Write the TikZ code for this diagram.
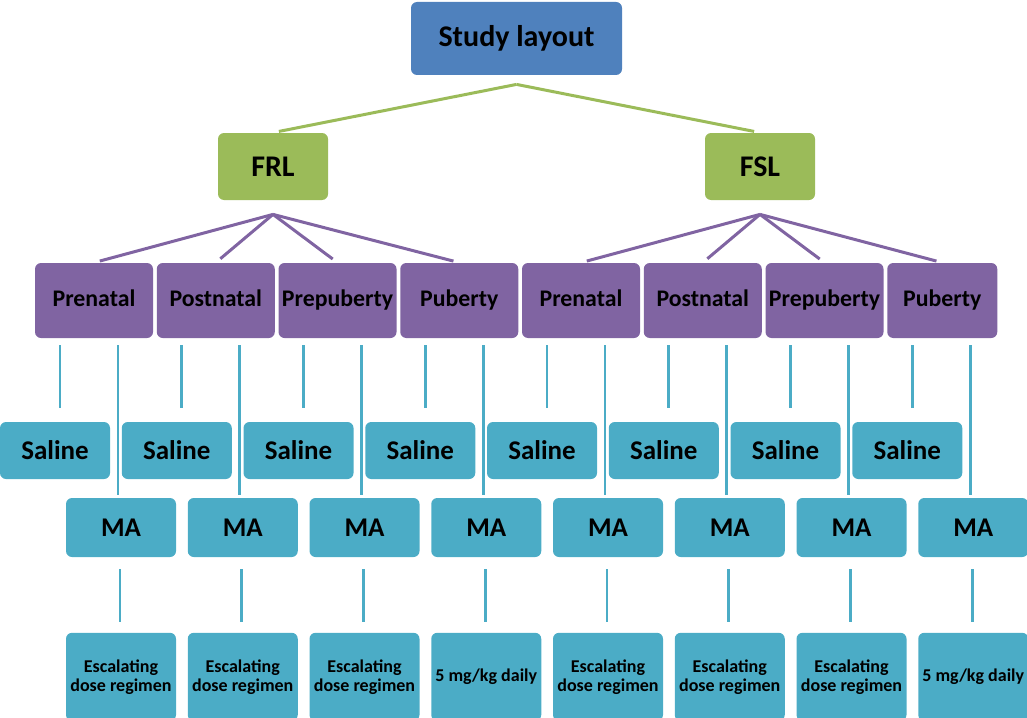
\documentclass[tikz,border=0pt]{standalone}
\usepackage{fontspec}
\setmainfont{Carlito}
\usepackage{tikz}
\usetikzlibrary{positioning, calc}
\usepackage{xcolor}

\definecolor{topblue}{HTML}{4F81BD}
\definecolor{linegreen}{HTML}{9BBB59}
\definecolor{agepurple}{HTML}{8064A2}
\definecolor{armteal}{HTML}{4BACC6}

\begin{document}
\begin{tikzpicture}[x=0.5pt, y=-0.5pt,
    font=\bfseries,
    box/.style={rounded corners=3pt, draw=none, inner sep=0pt, align=center},
    agebox/.style={box, fill=agepurple, minimum height=37.5pt, text height=8.4pt, text depth=2.6pt,
                   font=\bfseries\fontsize{11.9}{13}\selectfont},
    armbox/.style={box, fill=armteal, minimum width=55pt, font=\bfseries\fontsize{13.5}{15}\selectfont},
    dosebox/.style={box, fill=armteal, minimum width=55pt, minimum height=44pt, font=\bfseries\fontsize{9}{9.5}\selectfont},
    greenlink/.style={draw=linegreen, line width=1.5pt, shorten >=3pt},
    purplelink/.style={draw=agepurple, line width=1.5pt, shorten >=3pt},
    teallink/.style={draw=armteal, line width=1.3pt}]
    \useasboundingbox (0,0) rectangle (1027,717);

    % Add the top of the tree
        \node[box,
              fill=topblue,
              minimum width=105.5pt,
              minimum height=36.5pt,
              font=\bfseries\fontsize{15}{17}\selectfont] (top) at (516.5,38.5) {Study layout};
        \node[box,
              fill=linegreen,
              minimum width=55pt,
              minimum height=33.5pt,
              font=\bfseries\fontsize{15}{17}\selectfont] (frl) at (273,166.5) {FRL};
        \node[box,
              fill=linegreen,
              minimum width=55pt,
              minimum height=33.5pt,
              font=\bfseries\fontsize{15}{17}\selectfont] (fsl) at (760,166.5) {FSL};

        \coordinate (topfork) at ($(top.south)+(0,9)$);
        \coordinate (frlfork) at ($(frl.south)+(0,14)$);
        \coordinate (fslfork) at ($(fsl.south)+(0,14)$);

    % Add the age groups and the arms under each one
        \foreach \i/\age/\w/\dx in {1/Prenatal/59/0, 2/Postnatal/59/0, 3/Prepuberty/59/0, 4/Puberty/59/0,
                                    5/Prenatal/59/0, 6/Postnatal/59/0, 7/Prepuberty/59/0, 8/Puberty/55/-4} {
            \pgfmathsetmacro{\cx}{94+121.75*(\i-1)}
            \node[agebox, minimum width=\w pt] (p\i) at (\cx+\dx,300.5) {\age};
            \node[armbox, minimum height=28.5pt] (s\i) at (\cx-39,450.5) {Saline};
            \node[armbox, minimum height=29.5pt] (m\i) at (\cx+27,527.5) {MA};
        }

    % Dose regimens
        \foreach \i/\dose in {1/{Escalating\\dose regimen}, 2/{Escalating\\dose regimen},
                              3/{Escalating\\dose regimen}, 4/{5 mg/kg daily},
                              5/{Escalating\\dose regimen}, 6/{Escalating\\dose regimen},
                              7/{Escalating\\dose regimen}, 8/{5 mg/kg daily}} {
            \node[dosebox, below=37.5pt of m\i.south, anchor=north] (d\i) {\dose};
        }

    % Connect the boxes
        \draw[greenlink]
            (topfork) edge (frl.north)
            (topfork) edge (fsl.north);

        \draw[purplelink]
            (frlfork) edge (p1.north)
            (frlfork) edge (p2.north)
            (frlfork) edge (p3.north)
            (frlfork) edge (p4.north)
            (fslfork) edge (p5.north)
            (fslfork) edge (p6.north)
            (fslfork) edge (p7.north)
            (fslfork) edge (p8.north);

        \foreach \i in {1,...,8} {
            \draw[teallink, shorten <=3.5pt, shorten >=7pt]
                ([xshift=2.5pt]s\i.north |- p\i.south) -- ([xshift=2.5pt]s\i.north);
            \draw[teallink, shorten <=3.5pt, shorten >=1.5pt]
                ([xshift=-1.5pt]m\i.north |- p\i.south) -- ([xshift=-1.5pt]m\i.north);
            \draw[teallink, shorten <=6pt, shorten >=5pt]
                ([xshift=-0.5pt]m\i.south) -- ([xshift=-0.5pt]d\i.north);
        }

\end{tikzpicture}
\end{document}
